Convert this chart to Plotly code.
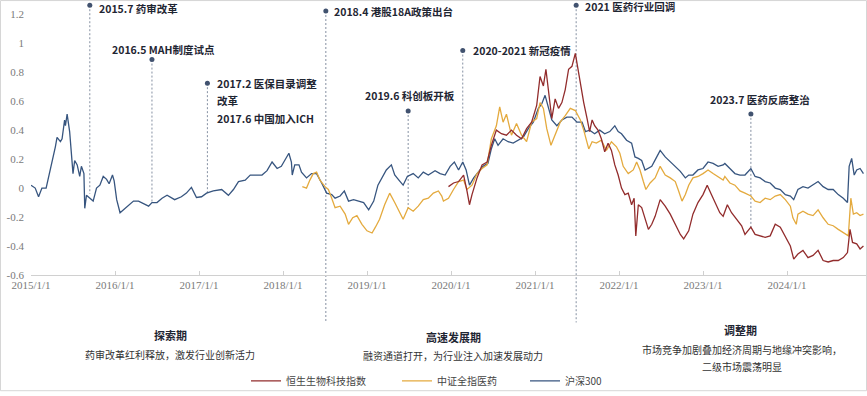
import plotly.graph_objects as go

# ---------------- data (decimal year, cumulative return) ----------------
hs300_t = [2015.00, 2015.05, 2015.09, 2015.13, 2015.18, 2015.23, 2015.29, 2015.31, 2015.35, 2015.37,
           2015.40, 2015.41, 2015.43, 2015.46, 2015.48, 2015.50, 2015.52, 2015.55, 2015.58, 2015.60,
           2015.63, 2015.64, 2015.66, 2015.70, 2015.74, 2015.78, 2015.82, 2015.86, 2015.90, 2015.93,
           2015.97, 2015.99, 2016.02, 2016.06, 2016.10, 2016.16, 2016.22, 2016.28, 2016.34, 2016.40,
           2016.44, 2016.50, 2016.56, 2016.62, 2016.71, 2016.79, 2016.85, 2016.91, 2016.97, 2017.03,
           2017.09, 2017.17, 2017.27, 2017.35, 2017.41, 2017.47, 2017.55, 2017.61, 2017.67, 2017.75,
           2017.81, 2017.87, 2017.93, 2017.98, 2018.02, 2018.07, 2018.10, 2018.11, 2018.14, 2018.19,
           2018.22, 2018.28, 2018.34, 2018.40, 2018.46, 2018.52, 2018.58, 2018.62, 2018.68, 2018.73,
           2018.78, 2018.84, 2018.90, 2018.96, 2019.02, 2019.08, 2019.13, 2019.18, 2019.23, 2019.29,
           2019.33, 2019.38, 2019.43, 2019.48, 2019.55, 2019.61, 2019.67, 2019.73, 2019.81, 2019.87,
           2019.93, 2019.99, 2020.04, 2020.09, 2020.14, 2020.18, 2020.22, 2020.27, 2020.33, 2020.38,
           2020.44, 2020.48, 2020.52, 2020.56, 2020.62, 2020.68, 2020.74, 2020.80, 2020.86, 2020.92,
           2020.98, 2021.04, 2021.08, 2021.12, 2021.16, 2021.20, 2021.26, 2021.32, 2021.38, 2021.44,
           2021.50, 2021.56, 2021.60, 2021.65, 2021.71, 2021.77, 2021.83, 2021.89, 2021.95, 2021.99,
           2022.03, 2022.09, 2022.15, 2022.19, 2022.23, 2022.27, 2022.31, 2022.35, 2022.39, 2022.44,
           2022.49, 2022.55, 2022.61, 2022.67, 2022.73, 2022.79, 2022.83, 2022.88, 2022.94, 2023.00,
           2023.06, 2023.12, 2023.18, 2023.24, 2023.26, 2023.32, 2023.38, 2023.44, 2023.50, 2023.57,
           2023.62, 2023.68, 2023.74, 2023.80, 2023.86, 2023.92, 2023.98, 2024.04, 2024.08, 2024.13,
           2024.19, 2024.25, 2024.31, 2024.37, 2024.43, 2024.49, 2024.55, 2024.61, 2024.67, 2024.72,
           2024.74, 2024.77, 2024.80, 2024.83, 2024.87, 2024.91]
hs300_v = [0.02, 0.00, -0.06, 0.00, 0.00, 0.125, 0.285, 0.35, 0.32, 0.34,
           0.47, 0.43, 0.51, 0.39, 0.25, 0.10, 0.19, 0.16, 0.08, 0.15,
           0.10, -0.14, -0.05, -0.07, -0.09, 0.00, 0.02, 0.08, 0.06, 0.03,
           0.09, 0.05, -0.08, -0.17, -0.15, -0.125, -0.09, -0.09, -0.11, -0.125,
           -0.10, -0.10, -0.07, -0.05, -0.08, -0.06, -0.035, 0.005, -0.065, -0.06,
           -0.035, -0.02, -0.01, -0.05, -0.01, 0.045, 0.055, 0.09, 0.09, 0.09,
           0.12, 0.18, 0.135, 0.15, 0.19, 0.24, 0.18, 0.09, 0.16, 0.16,
           0.11, 0.07, 0.10, 0.10, 0.035, -0.035, -0.045, -0.07, -0.055, -0.02,
           -0.09, -0.08, -0.09, -0.10, -0.15, -0.09, 0.02, 0.07, 0.125, 0.16,
           0.09, 0.055, 0.02, 0.08, 0.10, 0.07, 0.11, 0.09, 0.12, 0.10,
           0.09, 0.15, 0.18, 0.125, 0.18, 0.125, 0.02, 0.07, 0.11, 0.15,
           0.17, 0.27, 0.34, 0.295, 0.34, 0.32, 0.31, 0.33, 0.35, 0.41,
           0.455, 0.55, 0.58, 0.64, 0.55, 0.47, 0.43, 0.47, 0.49, 0.49,
           0.455, 0.455, 0.39, 0.40, 0.375, 0.40, 0.375, 0.39, 0.43, 0.39,
           0.375, 0.33, 0.31, 0.215, 0.205, 0.19, 0.125, 0.135, 0.15, 0.205,
           0.26, 0.215, 0.18, 0.15, 0.115, 0.07, 0.09, 0.09, 0.125, 0.135,
           0.18, 0.17, 0.15, 0.16, 0.17, 0.135, 0.10, 0.09, 0.09, 0.135,
           0.08, 0.07, 0.045, 0.035, 0.00, -0.01, -0.045, -0.055, -0.08, -0.01,
           0.01, 0.00, 0.02, 0.045, 0.01, -0.01, -0.01, -0.045, -0.07, -0.10,
           0.15, 0.205, 0.09, 0.125, 0.135, 0.10]

med_t = [2018.23, 2018.28, 2018.32, 2018.36, 2018.40, 2018.44, 2018.50, 2018.54, 2018.58, 2018.62,
         2018.68, 2018.74, 2018.78, 2018.83, 2018.88, 2018.94, 2019.00, 2019.06, 2019.10, 2019.15,
         2019.21, 2019.27, 2019.33, 2019.38, 2019.43, 2019.49, 2019.55, 2019.61, 2019.67, 2019.73,
         2019.79, 2019.85, 2019.89, 2019.91, 2019.97, 2020.03, 2020.09, 2020.15, 2020.19, 2020.25,
         2020.31, 2020.37, 2020.43, 2020.48, 2020.54, 2020.58, 2020.62, 2020.66, 2020.72, 2020.78,
         2020.84, 2020.90, 2020.96, 2021.02, 2021.06, 2021.10, 2021.14, 2021.19, 2021.24, 2021.30,
         2021.36, 2021.42, 2021.48, 2021.54, 2021.58, 2021.64, 2021.68, 2021.73, 2021.79, 2021.85,
         2021.91, 2021.97, 2022.01, 2022.05, 2022.11, 2022.17, 2022.21, 2022.25, 2022.29, 2022.32,
         2022.37, 2022.43, 2022.49, 2022.55, 2022.61, 2022.67, 2022.71, 2022.75, 2022.79, 2022.83,
         2022.88, 2022.94, 2023.00, 2023.06, 2023.12, 2023.18, 2023.24, 2023.26, 2023.32, 2023.38,
         2023.44, 2023.50, 2023.57, 2023.62, 2023.68, 2023.74, 2023.80, 2023.86, 2023.92, 2023.98,
         2024.04, 2024.07, 2024.11, 2024.13, 2024.19, 2024.25, 2024.31, 2024.37, 2024.43, 2024.49,
         2024.55, 2024.61, 2024.67, 2024.73, 2024.76, 2024.79, 2024.83, 2024.87, 2024.91]
med_v = [0.01, 0.00, 0.055, 0.10, 0.11, 0.055, 0.01, -0.01, -0.07, -0.135,
         -0.125, -0.18, -0.25, -0.205, -0.19, -0.25, -0.295, -0.31, -0.27, -0.215,
         -0.115, -0.035, -0.10, -0.16, -0.215, -0.135, -0.16, -0.125, -0.08, -0.07,
         -0.035, -0.02, -0.055, -0.09, -0.07, -0.01, 0.045, 0.055, -0.01, 0.02,
         0.10, 0.135, 0.16, 0.34, 0.43, 0.56, 0.455, 0.51, 0.365, 0.445,
         0.365, 0.32, 0.455, 0.48, 0.59, 0.55, 0.41, 0.295, 0.365, 0.455,
         0.50, 0.55, 0.535, 0.47, 0.40, 0.27, 0.32, 0.31, 0.33, 0.26,
         0.32, 0.285, 0.24, 0.15, 0.10, 0.125, 0.18, 0.125, 0.045, -0.01,
         0.035, 0.07, 0.15, 0.09, 0.07, 0.045, -0.02, -0.09, -0.045, 0.02,
         0.07, 0.08, 0.10, 0.125, 0.10, 0.08, 0.055, 0.08, 0.035, 0.02,
         -0.02, -0.035, -0.055, -0.09, -0.10, -0.07, -0.08, -0.055, -0.045, -0.08,
         -0.125, -0.205, -0.25, -0.18, -0.16, -0.18, -0.19, -0.15, -0.205, -0.25,
         -0.26, -0.285, -0.31, -0.33, -0.07, -0.18, -0.17, -0.19, -0.18]

bio_t = [2019.97, 2020.03, 2020.09, 2020.15, 2020.19, 2020.22, 2020.25, 2020.31, 2020.37, 2020.43,
         2020.48, 2020.54, 2020.60, 2020.66, 2020.72, 2020.78, 2020.84, 2020.90, 2020.96, 2021.02,
         2021.06, 2021.10, 2021.13, 2021.16, 2021.20, 2021.24, 2021.28, 2021.32, 2021.36, 2021.40,
         2021.44, 2021.48, 2021.52, 2021.56, 2021.58, 2021.62, 2021.65, 2021.68, 2021.71, 2021.75,
         2021.79, 2021.83, 2021.87, 2021.91, 2021.95, 2021.99, 2022.03, 2022.07, 2022.11, 2022.15,
         2022.18, 2022.20, 2022.23, 2022.27, 2022.31, 2022.35, 2022.39, 2022.43, 2022.49, 2022.55,
         2022.61, 2022.67, 2022.73, 2022.77, 2022.83, 2022.88, 2022.94, 2023.00, 2023.05, 2023.10,
         2023.16, 2023.20, 2023.24, 2023.29, 2023.34, 2023.40, 2023.46, 2023.50, 2023.57, 2023.62,
         2023.68, 2023.74, 2023.80, 2023.86, 2023.92, 2023.98, 2024.04, 2024.08, 2024.13, 2024.19,
         2024.25, 2024.31, 2024.37, 2024.43, 2024.49, 2024.55, 2024.61, 2024.67, 2024.72, 2024.75,
         2024.78, 2024.83, 2024.87, 2024.91]
bio_v = [0.01, 0.035, 0.045, 0.09, -0.02, -0.115, -0.045, 0.07, 0.16, 0.18,
         0.295, 0.40, 0.375, 0.365, 0.40, 0.365, 0.34, 0.41, 0.455, 0.57,
         0.77, 0.705, 0.82, 0.66, 0.48, 0.615, 0.55, 0.59, 0.68, 0.82,
         0.84, 0.93, 0.795, 0.65, 0.59, 0.48, 0.39, 0.47, 0.43, 0.40,
         0.34, 0.25, 0.31, 0.26, 0.16, 0.09, 0.00, -0.045, -0.035, -0.115,
         -0.07, -0.33, -0.115, -0.135, -0.205, -0.285, -0.25, -0.195, -0.08, -0.125,
         -0.18, -0.25, -0.32, -0.35, -0.295, -0.18, -0.10, -0.045, 0.02, -0.045,
         -0.115, -0.17, -0.195, -0.115, -0.17, -0.215, -0.26, -0.32, -0.27, -0.32,
         -0.33, -0.34, -0.33, -0.25, -0.27, -0.34, -0.40, -0.49, -0.455, -0.43,
         -0.48, -0.465, -0.43, -0.50, -0.51, -0.50, -0.50, -0.48, -0.445, -0.285,
         -0.375, -0.385, -0.42, -0.40]

year_ticks = list(range(2015, 2025))
year_labels = [f"{y}/1/1" for y in year_ticks]
y_ticks = [-0.6, -0.4, -0.2, 0, 0.2, 0.4, 0.6, 0.8, 1.0, 1.2]
y_labels = ["-0.6", "-0.4", "-0.2", "0", "0.2", "0.4", "0.6", "0.8", "1", "1.2"]

event_t = [2015.70, 2016.44, 2017.10, 2018.51, 2019.49, 2020.14, 2021.49, 2023.57]
event_labels = ["2015.7 药审改革", "2016.5 MAH制度试点", "2017.2 医保目录调整\n改革\n2017.6 中国加入ICH",
                "2018.4 港股18A政策出台", "2019.6 科创板开板", "2020-2021 新冠疫情",
                "2021 医药行业回调", "2023.7 医药反腐整治"]

phase_titles = ["探索期", "高速发展期", "调整期"]
phase_desc = [["药审改革红利释放，激发行业创新活力"],
              ["融资通道打开，为行业注入加速发展动力"],
              ["市场竞争加剧叠加经济周期与地缘冲突影响，", "二级市场震荡明显"]]

# ---------------- layout geometry ----------------
W_FIG, H_FIG = 867, 396
L, R, T, B = 31, 1, 5, 118
PW, PH = W_FIG - L - R, H_FIG - T - B
Y0 = -0.6
Y1 = Y0 + PH / 146.5
X0 = 2015.0
X1 = X0 + PW / 84.0


def px(p):
    return (p - L) / PW


def py(p):
    return (H_FIG - B - p) / PH


def vy(v):
    return (v - Y0) / (Y1 - Y0)


# event marker layout (dot top value, line end value or None = runs below axis)
event_top = [1.262, 0.887, 0.724, 1.222, 0.532, 0.949, 1.262, 0.512]
event_end = [-0.04, -0.10, -0.035, None, -0.15, 0.16, None, -0.27]
event_label_xy = [(97, 9), (110, 50), (215, 84), (332, 12), (363, 97), (471, 51), (583, 7), (708, 101)]
phase_xy = [(170, 339), (453, 341), (740, 334)]
phase_desc_xy = [(170, 358), (453, 359), (742, 353)]

C_BLUE = "#37557f"
C_GOLD = "#e4aa3e"
C_RED = "#922c2c"
C_EVT = "#41526f"
CJK = "Noto Sans CJK SC"

fig = go.Figure()
fig.add_trace(go.Scatter(x=hs300_t, y=hs300_v, mode="lines", name="沪深300",
                         line=dict(color=C_BLUE, width=1.3), legend="legend3"))
fig.add_trace(go.Scatter(x=med_t, y=med_v, mode="lines", name="中证全指医药",
                         line=dict(color=C_GOLD, width=1.3), legend="legend2"))
fig.add_trace(go.Scatter(x=bio_t, y=bio_v, mode="lines", name="恒生生物科技指数",
                         line=dict(color=C_RED, width=1.3), legend="legend"))
fig.add_trace(go.Scatter(x=event_t, y=event_top, mode="markers", showlegend=False,
                         marker=dict(color=C_EVT, size=5), cliponaxis=False, hoverinfo="skip"))

shapes = []
for t, top, end in zip(event_t, event_top, event_end):
    y_end = py(326) if end is None else vy(end)
    shapes.append(dict(type="line", xref="x", yref="paper", x0=t, x1=t, y0=vy(top), y1=y_end,
                       line=dict(color="#8590a2", width=1, dash="2px,2px"), layer="below"))
# outer frame
shapes.append(dict(type="rect", xref="paper", yref="paper", x0=px(0.5), x1=px(866.5),
                   y0=py(395), y1=py(0.5), line=dict(color="#d6d6d6", width=1)))

annotations = []
for lab, (lx, ly) in zip(event_labels, event_label_xy):
    for i, part in enumerate(lab.split("\n")):
        annotations.append(dict(text=f"<b>{part}</b>", xref="paper", yref="paper",
                                x=px(lx), y=py(ly + i * 18), xanchor="left", yanchor="middle",
                                showarrow=False, font=dict(family=CJK, size=10.5, color="#1f2633")))
for title, (tx, ty) in zip(phase_titles, phase_xy):
    annotations.append(dict(text=f"<b>{title}</b>", xref="paper", yref="paper", x=px(tx), y=py(ty),
                            xanchor="center", yanchor="middle", showarrow=False,
                            font=dict(family=CJK, size=11, color="#1f2633")))
for lines, (dx, dy) in zip(phase_desc, phase_desc_xy):
    for i, part in enumerate(lines):
        annotations.append(dict(text=part, xref="paper", yref="paper", x=px(dx), y=py(dy + i * 18),
                                xanchor="center", yanchor="middle", showarrow=False,
                                font=dict(family=CJK, size=10, color="#333333")))

legend_common = dict(orientation="h", xanchor="left", yanchor="middle", bgcolor="rgba(0,0,0,0)",
                     font=dict(family=CJK, size=10, color="#444444"), itemwidth=30)

fig.update_layout(
    template="none",
    width=W_FIG, height=H_FIG,
    margin=dict(l=L, r=R, t=T, b=B, pad=0),
    paper_bgcolor="white", plot_bgcolor="white",
    showlegend=True,
    legend=dict(x=px(246), y=py(385), **legend_common),
    legend2=dict(x=px(397), y=py(385), **legend_common),
    legend3=dict(x=px(525), y=py(385), **legend_common),
    xaxis=dict(range=[X0, X1], tickvals=year_ticks, ticktext=year_labels, showgrid=False,
               zeroline=False, showline=True, linecolor="#d0d0d0", linewidth=1, automargin=False,
               ticks="inside", ticklen=4, tickcolor="#d0d0d0",
               tickfont=dict(family="Liberation Serif", size=11, color="#7a7a7a")),
    yaxis=dict(range=[Y0, Y1], tickvals=y_ticks, ticktext=y_labels, showgrid=False, automargin=False,
               zeroline=False, showline=False, ticks="", ticklabelstandoff=6,
               tickfont=dict(family="Liberation Serif", size=11, color="#7a7a7a")),
    shapes=shapes, annotations=annotations,
)

fig.write_html("out.html", config={"displayModeBar": False},
               post_script="document.body.style.margin='0';document.body.style.overflow='hidden';")
